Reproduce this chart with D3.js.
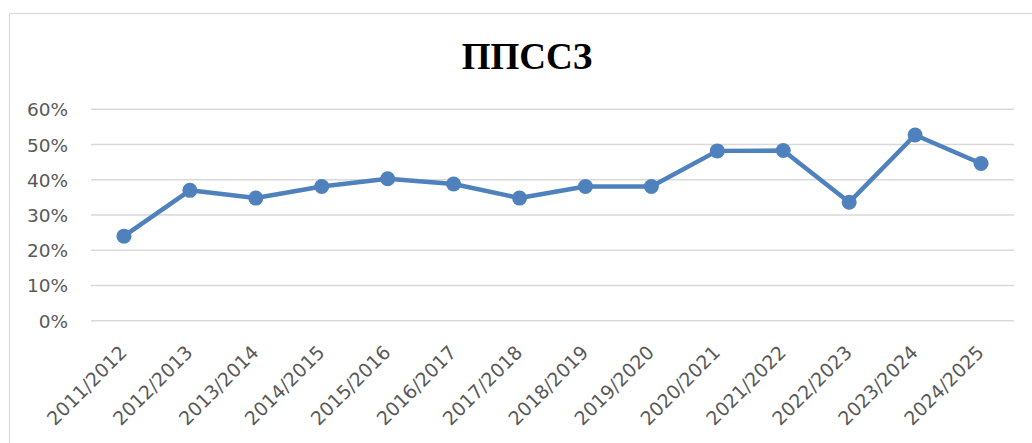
<!DOCTYPE html>
<html><head><meta charset="utf-8">
<script src="https://cdn.jsdelivr.net/npm/d3@7"></script>
<style>body{margin:0;background:#fff}</style>
</head><body>
<svg id="c" width="1032" height="443"></svg>
<script>
const categories = ["2011/2012","2012/2013","2013/2014","2014/2015","2015/2016","2016/2017","2017/2018","2018/2019","2019/2020","2020/2021","2021/2022","2022/2023","2023/2024","2024/2025"];
const values = [0.24,0.37,0.348,0.381,0.403,0.388,0.348,0.381,0.381,0.482,0.483,0.336,0.527,0.446];
const yTicks = [0,0.1,0.2,0.3,0.4,0.5,0.6];
const title = "ППССЗ";

(function(){
const svg = d3.select("#c");
svg.append("rect").attr("x",9.5).attr("y",13.5).attr("width",1040).attr("height",450)
  .attr("fill","#fff").attr("stroke","#d9d9d9").attr("stroke-width",1.2);

const pL=91, pR=1014, pT=109.3, pB=320.7;
const x = d3.scaleBand().domain(categories).range([pL,pR]);
const y = d3.scaleLinear().domain([0,0.6]).range([pB,pT]);

svg.append("text").attr("x",527).attr("y",68.5).attr("text-anchor","middle")
  .attr("font-family","Liberation Serif").attr("font-weight","bold").attr("font-size",37)
  .attr("fill","#000").text(title);

const grid = svg.append("g");
grid.selectAll("line").data(yTicks).join("line")
  .attr("x1",pL).attr("x2",pR).attr("y1",d=>y(d)).attr("y2",d=>y(d))
  .attr("stroke","#d9d9d9").attr("stroke-width",1.5);

const yAxis = d3.axisLeft(y).tickValues(yTicks).tickFormat(d3.format(".0%")).tickSize(0).tickPadding(0);
const ga = svg.append("g").attr("transform","translate(68,0)").call(yAxis);
ga.select(".domain").remove();
ga.selectAll("text").attr("font-family","DejaVu Sans").attr("font-size",18.5).attr("fill","#595959").attr("dy","0.35em");

const xAxis = d3.axisBottom(x).tickSize(0).tickPadding(0);
const gx = svg.append("g").attr("transform",`translate(0,${pB})`).call(xAxis);
gx.select(".domain").remove();
gx.selectAll("text").attr("font-family","DejaVu Sans").attr("font-size",19).attr("fill","#595959")
  .attr("text-anchor","end").attr("dy",0).attr("y",0)
  .attr("transform","translate(4,33) rotate(-45)");

const line = d3.line().x((d,i)=>x(categories[i])+x.bandwidth()/2).y(d=>y(d));
svg.append("path").datum(values).attr("d",line).attr("fill","none")
  .attr("stroke","#4f81bd").attr("stroke-width",4.5).attr("stroke-linejoin","round");
svg.append("g").selectAll("circle").data(values).join("circle")
  .attr("cx",(d,i)=>x(categories[i])+x.bandwidth()/2).attr("cy",d=>y(d)).attr("r",7.5)
  .attr("fill","#4f81bd");
})();
</script>
</body></html>
